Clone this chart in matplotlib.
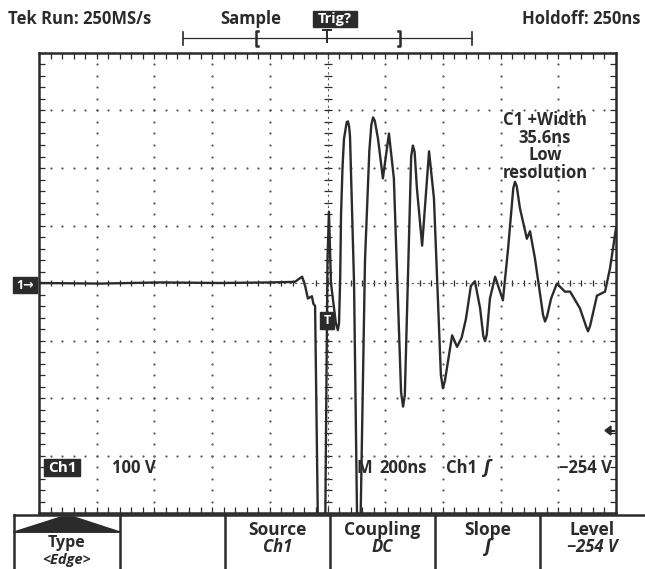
import numpy as np
import matplotlib
matplotlib.use("Agg")
import matplotlib.pyplot as plt
from matplotlib.patches import Rectangle, Polygon

# ---------------- data (time in ns relative to trigger, Ch1 in volts) ----------------
t_ns = [-1000, -788, -581, -373, -199, -113, -88, -78, -68, -54, -49, -43, -33,
        -8, 0, 5, 12, 29, 36, 40, 44, 47, 52, 57, 64, 67, 71, 75, 78, 92, 103,
        114, 130, 145, 152, 158, 164, 175, 192, 213, 230, 255, 262, 268, 279, 290, 296, 302, 310, 328,
        352, 369, 393, 400, 407, 432, 449, 465, 480, 497, 511, 529, 540, 546, 552, 563, 581, 608, 626,
        644, 650, 656, 667, 691, 702, 719, 747, 754, 761, 775, 795, 823, 841, 875, 896, 903, 910, 934,
        962, 979, 1000]
volts = [0, -1, 1, 0, 1, 2, 11, -4, -27, -23, -36, -40, -430,
         -430, 40, 124, 0, -70, -82, -70, 10, 120, 200, 250, 272, 280, 281, 272, 255, 0, -430,
         -430, 40, 230, 275, 288, 282, 251, 182, 260, 182, -190, -215, -195, 13, 220, 239, 228, 164, 65,
         229, 147, -160, -183, -170, -91, -111, -95, -62, -5, 3, -44, -92, -101, -90, -27, 11, -30, 60,
         165, 176, 168, 130, 77, 90, 43, -55, -67, -58, -27, -1, -15, -15, -44, -75, -84, -75, -22,
         -15, 25, 95]

header_left = "Tek Run: 250MS/s"
header_mode = "Sample"
header_trig = "Trig?"
header_right = "Holdoff: 250ns"
meas_text = "C1 +Width\n35.6ns\nLow\nresolution"
ch_scale = "100 V"
time_scale = "200ns"
trig_level = -254
menu_titles = ["Type", "", "Source", "Coupling", "Slope", "Level"]
menu_values = ["<Edge>", "", "Ch1", "DC", "ʃ", "−254 V"]

# ---------------- figure ----------------
W, H = 645, 569
fig = plt.figure(figsize=(W / 100, H / 100), dpi=100)
fig.patch.set_facecolor("white")
INK = "#2b2b2b"
GRID = "#5a5a5a"
FONT = ["Open Sans", "DejaVu Sans"]

L, R, T, B = 39, 616, 53, 513
ax = fig.add_axes([L / W, 1 - B / H, (R - L) / W, (B - T) / H])
ax.set_xlim(-1000, 1000)
ax.set_ylim(-400, 400)
ax.set_facecolor("white")
for s in ax.spines.values():
    s.set_linewidth(1.8)
    s.set_color(INK)

# border ticks every 0.2 div
ax.set_xticks(np.arange(-1000, 1001, 40))
ax.set_yticks(np.arange(-400, 401, 20))
ax.tick_params(direction="in", length=4, width=0.9, color=INK,
               top=True, right=True, labelbottom=False, labelleft=False)

# dotted graticule
for gx in range(-800, 801, 200):
    if gx == 0:
        continue
    yy = np.arange(-400, 401, 20)
    ax.plot([gx] * len(yy), yy, ls="none", marker="o", ms=1.6, color=GRID, mew=0)
for gy in range(-300, 301, 100):
    if gy == 0:
        continue
    xx = np.arange(-1000, 1001, 40)
    ax.plot(xx, [gy] * len(xx), ls="none", marker="o", ms=1.6, color=GRID, mew=0)

# center crosshair with fine ticks
xx = np.arange(-1000, 1001, 40)
ax.plot(xx, [0] * len(xx), ls="none", marker="|", ms=5, mew=0.9, color=INK)
ax.axhline(0, color=GRID, lw=0.8, ls=(0, (2, 3)))
yy = np.arange(-400, 401, 20)
ax.plot([0] * len(yy), yy, ls="none", marker="_", ms=6, mew=0.9, color=INK)
ax.axvline(0, color=GRID, lw=0.8, ls=(0, (2, 3)))

# waveform
ax.plot(t_ns, volts, color=INK, lw=1.7, solid_joinstyle="round", clip_on=True)

# ---------------- overlay in pixel coords ----------------
ov = fig.add_axes([0, 0, 1, 1])
ov.set_xlim(0, W)
ov.set_ylim(H, 0)
ov.axis("off")
ov.patch.set_alpha(0)


def txt(x, y, s, ha="center", size=12, color=INK, style="normal", weight="bold"):
    ov.text(x, y, s, ha=ha, va="center", fontsize=size, color=color,
            family=FONT, style=style, weight=weight)


# header
txt(8, 19, header_left, ha="left")
txt(251, 19, header_mode)
ov.add_patch(Rectangle((313, 11), 44, 16, color=INK))
txt(335, 19, header_trig, color="white", size=10.5)
txt(640, 19, header_right, ha="right")

# record bar
ov.plot([183, 472], [38, 38], color=INK, lw=0.9)
ov.plot([183, 183], [32, 45], color=INK, lw=1.2)
ov.plot([472, 472], [32, 45], color=INK, lw=1.2)
ov.plot([258, 256, 256, 258], [31, 31, 46, 46], color=INK, lw=1.8)
ov.plot([398, 400, 400, 398], [31, 31, 46, 46], color=INK, lw=1.8)
ov.plot([327, 327], [30, 42], color=INK, lw=1.4)
ov.plot([323, 331], [30, 30], color=INK, lw=1.4)

# channel marker 1->
ov.add_patch(Rectangle((13, 277), 24, 16, color=INK))
txt(25, 285, "1→", color="white", size=9)
# trigger T marker
ov.add_patch(Rectangle((320, 312), 14, 17, color=INK))
txt(327, 320.5, "T", color="white", size=9)
# trigger level arrow (filled arrowhead)
y_lvl = 284.5 - trig_level * (B - T) / 800
ov.add_patch(Polygon([(605, y_lvl), (611, y_lvl - 4.5), (611, y_lvl + 4.5)], closed=True, color=INK))
ov.plot([610, 614], [y_lvl, y_lvl], color=INK, lw=1.5)

# measurement text
for i, line in enumerate(meas_text.split("\n")):
    txt(545, 120 + i * 17.5, line)

# readout
ov.add_patch(Rectangle((44, 459), 36, 17, color=INK))
txt(62, 467.5, "Ch1", color="white", size=11)
txt(112, 467.5, ch_scale, ha="left")
txt(357, 467.5, "M", ha="left")
txt(379, 467.5, time_scale, ha="left")
txt(446, 467.5, "Ch1", ha="left")
txt(487, 467.5, "ʃ", style="italic")
txt(612, 467.5, f"−{abs(trig_level)} V", ha="right")

# bottom menu
ov.plot([14, W], [515, 515], color=INK, lw=1.8)
xs = [14, 120, 225, 330, 435, 540, W]
for x in xs[:-1]:
    ov.plot([x, x], [515, H], color=INK, lw=1.8)
ov.add_patch(Polygon([(14, 532), (61, 517), (74, 517), (120, 532)], closed=True, color=INK))
ov.plot([14, 120], [532, 532], color=INK, lw=1.2)
txt(67, 543, menu_titles[0], size=11.5)
txt(67, 560, menu_values[0], style="italic", size=10.5)
for i in range(2, 6):
    cx = (xs[i] + xs[i + 1]) / 2
    txt(cx, 530, menu_titles[i], size=12.5)
    txt(cx, 547, menu_values[i], style="italic", size=12)

fig.savefig("out.png", dpi=100, facecolor="white")
